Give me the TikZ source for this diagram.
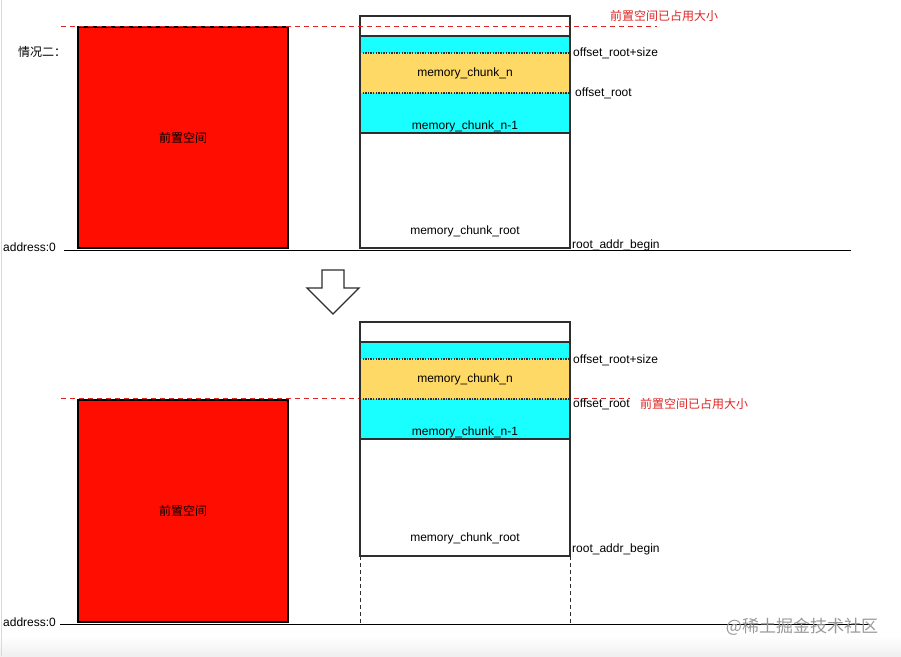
\documentclass[tikz,border=0pt]{standalone}
\usepackage{fontspec}
\setmainfont{Liberation Sans}
\newfontfamily\cjk{Noto Sans CJK SC}
\usetikzlibrary{positioning}
\definecolor{chunkcyan}{HTML}{19FFFF}
\definecolor{chunkorange}{HTML}{FFD966}
\definecolor{prered}{HTML}{FF0D00}
\definecolor{usedred}{HTML}{E02424}
\definecolor{linegray}{HTML}{2E2E2E}
\begin{document}
\begin{tikzpicture}
[x=1pt,y=-1pt,
every node/.style={font=\fontsize{12}{14}\selectfont,inner sep=0pt},
prebox/.style={draw=black,line width=1.8pt,fill=prered,minimum width=210pt,
               font=\cjk\fontsize{12}{14}\selectfont},
colline/.style={draw=linegray,line width=1.5pt},
chunkline/.style={draw=linegray,line width=1.3pt,dash pattern=on 1.3pt off 1.3pt},
usedline/.style={draw=usedred,line width=0.9pt,dash pattern=on 5pt off 4pt},
baseline/.style={draw=black,line width=1pt},
usedlabel/.style={anchor=west,text=usedred,font=\cjk\fontsize{12}{14}\selectfont}
]
\useasboundingbox (0,0) rectangle (901,656);
\fill[white] (0,0) rectangle (901,656);
\shade[top color=white,bottom color=black!6] (0,636) rectangle (901,656);
\draw[black!15,line width=1pt] (1.5,0) -- (1.5,656);
%\tikzset{every node/.style={draw=red}}

% ----- before -----
\node[font=\cjk\fontsize{12}{14}\selectfont,anchor=west] (case) at (18,52) {情况二：};
\node[prebox,minimum height=221pt] (pre1) at (183,137.5) {前置空间};
\node[anchor=west] (addr1) at (3,247) {address:0};
\coordinate (base1w) at (64,250);
\coordinate (base1e) at (851,250);
\draw[baseline] (base1w) -- (base1e);

\fill[chunkcyan] (360,36) rectangle (570,133);
\fill[chunkorange] (360,53) rectangle (570,93);
\draw[chunkline] (360,53) -- (570,53);
\draw[chunkline] (360,93) -- (570,93);
\draw[colline] (360,36) -- (570,36);
\draw[colline] (360,133) -- (570,133);
\draw[colline] (360,16) rectangle (570,248);
\node (chunkn1) at (465,73) {memory\_chunk\_n};
\node (chunkm1) at (465,126) {memory\_chunk\_n-1};
\node (root1) at (465,231) {memory\_chunk\_root};
\node[anchor=west] (offsize1) at (573,53) {offset\_root+size};
\node[anchor=west] (offroot1) at (575,93) {offset\_root};
\node[anchor=west] (rootaddr1) at (572,245) {root\_addr\_begin};
\node[usedlabel] (used1) at (610,16) {前置空间已占用大小};
\coordinate (used1w) at (61,26);
\coordinate (used1e) at (657,26);
\draw[usedline] (used1w) -- (used1e);

% ----- arrow -----
\draw[linegray,line width=1.3pt,line join=miter]
  (322,270) -- (344,270) -- (344,288) -- (359,288) -- (333,314)
  -- (307,288) -- (322,288) -- cycle;

% ----- after -----
\coordinate (used2w) at (61,398.5);
\coordinate (used2e) at (630,398.5);
\draw[usedline] (used2w) -- (used2e);
\node[prebox,minimum height=222pt] (pre2) at (183,511) {前置空间};
\node[anchor=west] (addr2) at (3,622) {address:0};
\coordinate (base2w) at (60,624);
\coordinate (base2e) at (870,624);
\draw[baseline] (base2w) -- (base2e);

\fill[chunkcyan] (360,342) rectangle (570,439);
\fill[chunkorange] (360,359) rectangle (570,399);
\draw[chunkline] (360,359) -- (570,359);
\draw[chunkline] (360,399) -- (570,399);
\draw[colline] (360,342) -- (570,342);
\draw[colline] (360,439) -- (570,439);
\draw[colline] (360,322) rectangle (570,556);
\draw[linegray,line width=0.8pt,dash pattern=on 4pt off 3pt] (360,556) -- (360,624);
\draw[linegray,line width=0.8pt,dash pattern=on 4pt off 3pt] (570,556) -- (570,624);
\node (chunkn2) at (465,379) {memory\_chunk\_n};
\node (chunkm2) at (465,432) {memory\_chunk\_n-1};
\node (root2) at (465,538) {memory\_chunk\_root};
\node[anchor=west] (offsize2) at (573,360) {offset\_root+size};
\node[anchor=west] (offroot2) at (573,404) {offset\_root};
\node[anchor=west] (rootaddr2) at (572,549) {root\_addr\_begin};
\node[usedlabel] (used2) at (640,404) {前置空间已占用大小};

\node[text=black!40,font=\cjk\fontsize{17}{20}\selectfont] (mark) at (802,627) {@稀土掘金技术社区};
\end{tikzpicture}
\end{document}
